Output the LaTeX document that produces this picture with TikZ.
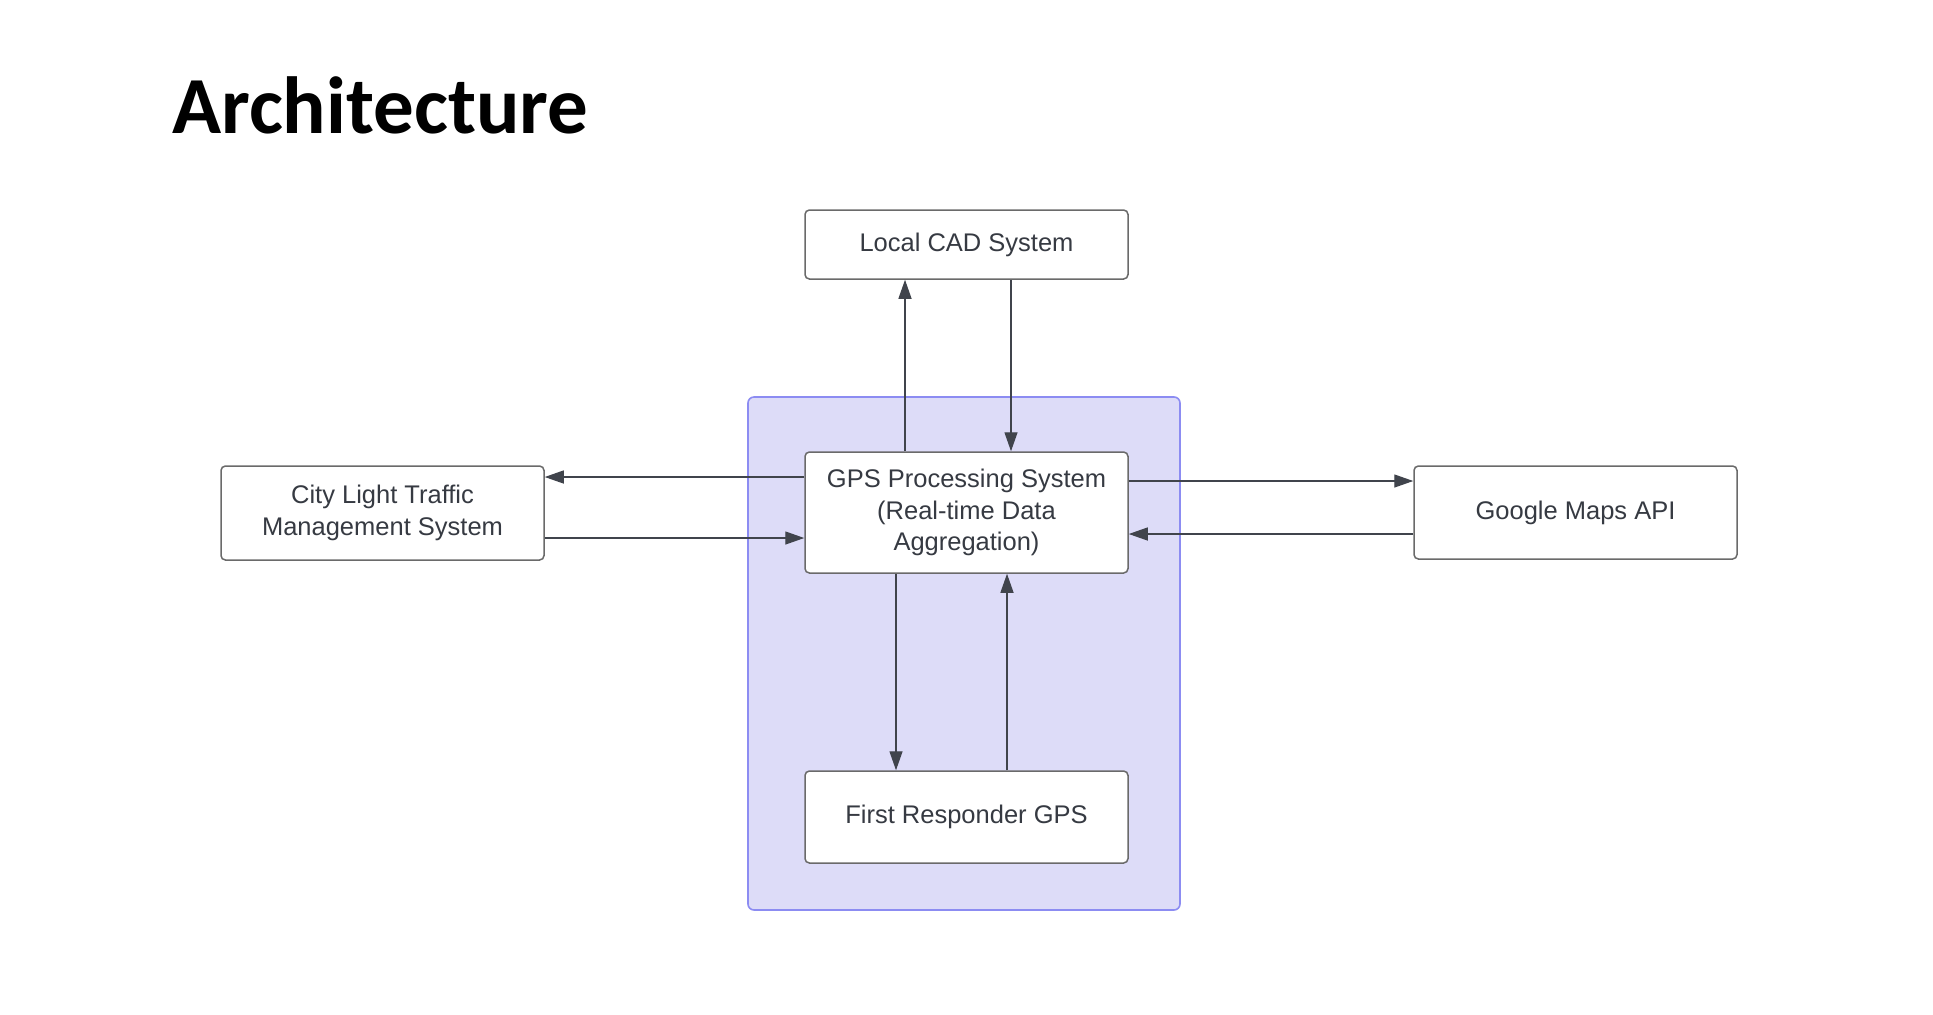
\documentclass[tikz,border=0pt]{standalone}
\usepackage{fontspec}
\setmainfont{Liberation Sans}
\newfontfamily\titlefont{Carlito}
\usetikzlibrary{arrows.meta}
\definecolor{txt}{HTML}{363A42}
\definecolor{lnc}{HTML}{40444C}
\definecolor{bdr}{HTML}{6A6A6A}
\definecolor{bfill}{HTML}{DDDCF8}
\definecolor{bline}{HTML}{8C8CF2}
\tikzset{
  sysbox/.style={draw=bdr, line width=0.75pt, rounded corners=2.2pt, fill=white,
    minimum width=161.5pt, inner sep=0pt, align=center, text=txt,
    font=\fontsize{12.75}{15.8}\selectfont},
  arr/.style={draw=lnc, line width=0.65pt, -{Triangle[length=9.5pt,width=6.5pt]}},
}
\begin{document}
\begin{tikzpicture}[x=0.5pt,y=-0.5pt]
\useasboundingbox (0,0) rectangle (1933,1014);
\fill[white] (0,0) rectangle (1933,1014);
\node[anchor=base west, inner sep=0pt, font=\titlefont\bfseries\fontsize{40.5}{48}\selectfont] (title) at (172,133) {Architecture};
\draw[bline, fill=bfill, line width=0.8pt, rounded corners=3pt] (748,397) rectangle (1180,910);
\node[sysbox, minimum height=34.5pt] (cad) at (966.5,244.5) {Local CAD System};
\node[sysbox, minimum height=60.5pt] (gps) at (966.5,512.5) {GPS Processing System\\(Real-time Data\\Aggregation)};
\node[sysbox, minimum height=46pt] (fr) at (966.5,817) {First Responder GPS};
\node[sysbox, minimum height=47pt] (city) at (382.5,513) {City Light Traffic\\Management System};
\node[sysbox, minimum height=46.5pt] (gm) at (1575.5,512.5) {Google Maps API};
\coordinate (xa) at (905,0);
\coordinate (xb) at (1011,0);
\coordinate (xc) at (896,0);
\coordinate (xd) at (1007,0);
\coordinate (ya) at (0,477);
\coordinate (yb) at (0,538);
\coordinate (yc) at (0,481);
\coordinate (yd) at (0,534);
\draw[arr] (gps.north -| xa) -- (cad.south -| xa);
\draw[arr] (cad.south -| xb) -- (gps.north -| xb);
\draw[arr] (gps.south -| xc) -- (fr.north -| xc);
\draw[arr] (fr.north -| xd) -- (gps.south -| xd);
\draw[arr] (gps.west |- ya) -- (city.east |- ya);
\draw[arr] (city.east |- yb) -- (gps.west |- yb);
\draw[arr] (gps.east |- yc) -- (gm.west |- yc);
\draw[arr] (gm.west |- yd) -- (gps.east |- yd);
\end{tikzpicture}
\end{document}
